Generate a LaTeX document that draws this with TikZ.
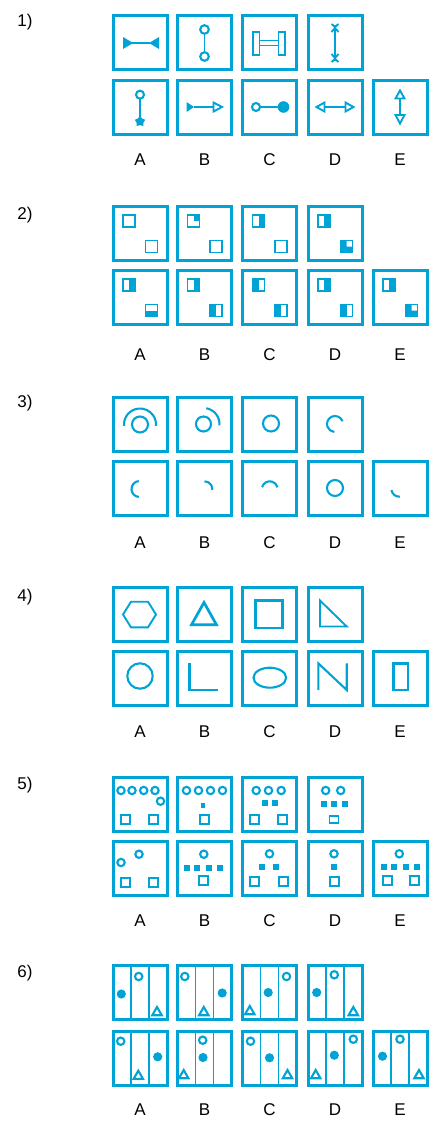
\documentclass[tikz,border=0pt]{standalone}
\usepackage{fontspec}
\setmainfont{Liberation Sans}
\usetikzlibrary{shapes.geometric}
\definecolor{qc}{RGB}{0,163,214}
\newcommand\qbx[4]{\node[qbox] (#1) at (#2,#3) {};
  \begin{scope}[shift={(#1.center)}]#4\end{scope}}
\newcommand\psq[3]{\begin{scope}[shift={(#1,#2)}]\fill[qc] #3;\draw[lwsq] (-6,-6) rectangle (6,6);\end{scope}}
\newcommand\osq[2]{\draw[lwb] (#1,#2) +(-4.5,-4.5) rectangle +(4.5,4.5);}
\newcommand\fsq[2]{\fill[qc] (#1,#2) +(-3,-3) rectangle +(3,3);}
\newcommand\ocir[2]{\draw[lwc] (#1,#2) circle (3.7);}
\newcommand\fcir[2]{\fill[qc] (#1,#2) circle (4.6);}
\newcommand\otri[2]{\draw[lwc] (#1,#2) +(0,-4.5) -- +(4.7,3.7) -- +(-4.7,3.7) -- cycle;}
\newcommand\cols{\draw[lwa] (-9,-27) -- (-9,27) (9,-27) -- (9,27);}
\begin{document}
\begin{tikzpicture}[x=1pt,y=-1pt,line join=miter,
  qbox/.style={draw=qc,line width=3pt,minimum size=54pt,inner sep=0pt,outer sep=0pt},
  lwa/.style={draw=qc,line width=1.4pt},
  lwb/.style={draw=qc,line width=1.9pt},
  lwc/.style={draw=qc,line width=2.1pt},
  lwd/.style={draw=qc,line width=2.7pt},
  lwsq/.style={draw=qc,line width=1.9pt},
  lbl/.style={font=\fontsize{17}{17}\selectfont,text=black,inner sep=0pt}]
\useasboundingbox (0,0) rectangle (430,1124);
% ---------- labels
\foreach \n/\y in {1/22,2/215,3/403,4/597,5/785,6/973}
  \node[lbl] (num\n) at (25,\y) {\n)};
\foreach \n/\y in {1/160,2/355,3/543,4/732,5/921,6/1110}
  \foreach \l/\x in {A/140,B/204.5,C/269.5,D/335,E/400}
    \node[lbl] (lab\n\l) at (\x,\y) {\l};
% ---------- problem 1
\qbx{p1ta}{140}{43}{\draw[lwa] (-8,0) -- (10,0);
  \fill[qc] (-17,-6) -- (-7,0) -- (-17,6) -- cycle;
  \fill[qc] (19,-6) -- (9,0) -- (19,6) -- cycle;}
\qbx{p1tb}{204.5}{43}{\draw[lwb] (0,-9.2) -- (0,9.2);
  \draw[lwc] (0,-13.5) circle (4.3) (0,13.5) circle (4.3);}
\qbx{p1tc}{269.5}{43}{\draw[lwb] (-16.5,-11) rectangle (-10,12) (9,-11) rectangle (15.5,12);
  \draw[lwb] (-10,-2.5) -- (9,-2.5) (-10,2.5) -- (9,2.5);}
\qbx{p1td}{335}{43}{\draw[lwa] (0,-18) -- (0,18);
  \draw[lwb] (-3.5,-19) -- (0,-16) -- (3.5,-19) (-3.5,-11) -- (0,-15) -- (3.5,-11);
  \draw[lwb] (-3.5,19) -- (0,16) -- (3.5,19) (-3.5,11) -- (0,15) -- (3.5,11);}
\qbx{p1ba}{140}{107}{\draw[lwc] (0,-12.3) circle (4);
  \draw[lwa] (0,-8.3) -- (0,12);
  \node[star,star points=5,fill=qc,minimum size=11pt,inner sep=0pt] (p1bastar) at (0,14.5) {};}
\qbx{p1bb}{204.5}{107}{\fill[qc] (-18,-5) -- (-10.5,0) -- (-18,5) -- cycle;
  \draw[lwa] (-10.5,0) -- (9,0);
  \draw[lwb] (9,-4.5) -- (17.5,0) -- (9,4.5) -- cycle;}
\qbx{p1bc}{269.5}{107}{\draw[lwc] (-13.5,0) circle (4);
  \draw[lwa] (-9.5,0) -- (9,0);
  \fill[qc] (14,0) circle (5.8);}
\qbx{p1bd}{335}{107}{\draw[lwb] (-18.5,0) -- (-10.5,-4.5) -- (-10.5,4.5) -- cycle;
  \draw[lwa] (-10.5,0) -- (10.5,0);
  \draw[lwb] (18.5,0) -- (10.5,-4.5) -- (10.5,4.5) -- cycle;}
\qbx{p1be}{400}{107}{\draw[lwb] (0,-16.5) -- (-4.5,-8.5) -- (4.5,-8.5) -- cycle;
  \draw[lwa] (0,-8.5) -- (0,8);
  \draw[lwb] (0,16.5) -- (-4.5,8) -- (4.5,8) -- cycle;}
% ---------- problem 2
\qbx{p2ta}{140}{233.5}{\psq{-11}{-12.5}{(0,0) rectangle (0,0)}\psq{11.5}{13}{(0,0) rectangle (0,0)}}
\qbx{p2tb}{204.5}{233.5}{\psq{-11}{-12.5}{(0,-6) rectangle (6,0)}\psq{11.5}{13}{(0,0) rectangle (0,0)}}
\qbx{p2tc}{269.5}{233.5}{\psq{-11}{-12.5}{(0,-6) rectangle (6,6)}\psq{11.5}{13}{(0,0) rectangle (0,0)}}
\qbx{p2td}{335}{233.5}{\psq{-11}{-12.5}{(0,-6) rectangle (6,6)}\psq{11.5}{13}{(-6,0) rectangle (6,6) (-6,-6) rectangle (0,0)}}
\qbx{p2ba}{140}{297.5}{\psq{-11}{-12.5}{(0,-6) rectangle (6,6)}\psq{11.5}{13}{(-6,0) rectangle (6,6)}}
\qbx{p2bb}{204.5}{297.5}{\psq{-11}{-12.5}{(0,-6) rectangle (6,6)}\psq{11.5}{13}{(-6,-6) rectangle (0,6)}}
\qbx{p2bc}{269.5}{297.5}{\psq{-11}{-12.5}{(-6,-6) rectangle (0,6)}\psq{11.5}{13}{(-6,-6) rectangle (0,6)}}
\qbx{p2bd}{335}{297.5}{\psq{-11}{-12.5}{(0,-6) rectangle (6,6)}\psq{11.5}{13}{(-6,-6) rectangle (0,6)}}
\qbx{p2be}{400}{297.5}{\psq{-11}{-12.5}{(0,-6) rectangle (6,6)}\psq{11.5}{13}{(-6,0) rectangle (6,6) (-6,-6) rectangle (0,0)}}
% ---------- problem 3
\qbx{p3ta}{140}{424}{\draw[lwc] (0,0.5) circle (8);
  \draw[lwc] (0,0.5) ++(-185:16) arc[start angle=-185,end angle=5,radius=16];}
\qbx{p3tb}{204.5}{424}{\draw[lwc] (-1,0) circle (7.5);
  \draw[lwc] (-1,0) ++(-80:16) arc[start angle=-80,end angle=5,radius=16];}
\qbx{p3tc}{269.5}{424}{\draw[lwc] (1.5,-0.5) circle (8);}
\qbx{p3td}{335}{424}{\draw[lwc] (0,0) ++(-20:8) arc[start angle=-20,end angle=-265,radius=8];}
\qbx{p3ba}{140}{488}{\draw[lwc] (-0.5,1) ++(-95:8) arc[start angle=-95,end angle=-265,radius=8];}
\qbx{p3bb}{204.5}{488}{\draw[lwc] (0,1.3) ++(-90:8) arc[start angle=-90,end angle=5,radius=8];}
\qbx{p3bc}{269.5}{488}{\draw[lwc] (0.3,1.3) ++(-165:8) arc[start angle=-165,end angle=-15,radius=8];}
\qbx{p3bd}{335}{488}{\draw[lwc] (0,0) circle (8);}
\qbx{p3be}{400}{488}{\draw[lwc] (-0.7,0.7) ++(-190:8) arc[start angle=-190,end angle=-275,radius=8];}
% ---------- problem 4
\qbx{p4ta}{140}{614.5}{\draw[lwb] (-17,0) -- (-9,-12.8) -- (8,-12.8) -- (16,0) -- (8,12.8) -- (-9,12.8) -- cycle;}
\qbx{p4tb}{204.5}{614.5}{\draw[lwd] (-0.5,-12) -- (12,10.3) -- (-13,10.3) -- cycle;}
\qbx{p4tc}{269.5}{614.5}{\draw[lwd] (-14,-14) rectangle (13,13.5);}
\qbx{p4td}{335}{614.5}{\draw[lwb] (-15,-14) -- (11.7,12) -- (-15,12) -- cycle;}
\qbx{p4ba}{140}{678}{\draw[lwc] (0,-2) circle (12.7);}
\qbx{p4bb}{204.5}{678}{\draw[lwd] (-15,-14.7) -- (-15,12) -- (13.3,12);}
\qbx{p4bc}{269.5}{678}{\draw[lwc] (0.3,-0.3) ellipse [x radius=16.3,y radius=10];}
\qbx{p4bd}{335}{678}{\draw[lwc] (-16.7,12) -- (-16.7,-14.7) -- (11.7,12) -- (11.7,-14.7);}
\qbx{p4be}{400}{678}{\draw[lwd] (-6.3,-14.7) rectangle (8,12);}
% ---------- problem 5
\qbx{p5ta}{140}{804.5}{\foreach \x in {-19,-8,3.7,15} {\ocir{\x}{-14}}
  \ocir{20.5}{-3.3}\osq{-14.7}{15}\osq{13.7}{15}}
\qbx{p5tb}{204.5}{804.5}{\foreach \x in {-18,-6,6,18} {\ocir{\x}{-14}}
  \fill[qc] (-1.3,0.7) +(-2,-2.5) rectangle +(2,2.5);\osq{-0.3}{15}}
\qbx{p5tc}{269.5}{804.5}{\foreach \x in {-13.3,-1,11.7} {\ocir{\x}{-14}}
  \fsq{-5}{-1.7}\fsq{5}{-1.7}\osq{-15}{15}\osq{12.7}{15}}
\qbx{p5td}{335}{804.5}{\ocir{-9.3}{-14}\ocir{5.7}{-14}
  \fsq{-11}{-0.7}\fsq{-1}{-0.7}\fsq{9.7}{-0.7}
  \draw[lwb] (-1,15) +(-4.5,-3.5) rectangle +(4.5,3.5);}
\qbx{p5ba}{140}{868.5}{\ocir{-19}{-6}\ocir{-1}{-14.3}\osq{-14.3}{14}\osq{13.3}{14}}
\qbx{p5bb}{204.5}{868.5}{\ocir{-0.7}{-14.3}\fsq{-17.3}{-0.3}\fsq{-7.3}{-0.3}\fsq{4.3}{-0.3}\fsq{15.3}{-0.3}\osq{-0.7}{12.3}}
\qbx{p5bc}{269.5}{868.5}{\ocir{0}{-14.7}\fsq{-7.7}{-2}\fsq{6.7}{-2}\osq{-15}{13}\osq{14.3}{13}}
\qbx{p5bd}{335}{868.5}{\ocir{-1}{-14.7}\fsq{-1}{-1.3}\osq{-0.3}{13}}
\qbx{p5be}{400}{868.5}{\ocir{-0.7}{-14.7}\fsq{-15.7}{-1.3}\fsq{-5.7}{-1.3}\fsq{6}{-1.3}\fsq{17}{-1.3}\osq{-12.3}{12.3}\osq{14.3}{12.3}}
% ---------- problem 6
\qbx{p6ta}{140}{992.5}{\cols\fcir{-18.7}{1.5}\ocir{-1.3}{-16}\otri{17}{19}}
\qbx{p6tb}{204.5}{992.5}{\cols\ocir{-19.7}{-16}\otri{-0.7}{19}\fcir{17.7}{0.5}}
\qbx{p6tc}{269.5}{992.5}{\cols\otri{-19.7}{18}\fcir{-1.3}{0}\ocir{17}{-16}}
\qbx{p6td}{335}{992.5}{\cols\fcir{-18.3}{0}\ocir{-0.7}{-17.7}\otri{18.3}{19}}
\qbx{p6ba}{140}{1058.5}{\cols\ocir{-19.3}{-17.3}\otri{-1.7}{16.7}\fcir{17.7}{-1.7}}
\qbx{p6bb}{204.5}{1058.5}{\cols\otri{-20.8}{16}\ocir{-1.8}{-18.3}\fcir{-1.5}{-1}}
\qbx{p6bc}{269.5}{1058.5}{\cols\ocir{-19}{-17.3}\fcir{0}{-0.7}\otri{18}{16}}
\qbx{p6bd}{335}{1058.5}{\cols\otri{-19.3}{16}\fcir{-0.7}{-3.3}\ocir{18.3}{-19.3}}
\qbx{p6be}{400}{1058.5}{\cols\fcir{-17.5}{-2.3}\ocir{0}{-19.3}\otri{19}{16}}
\end{tikzpicture}
\end{document}
